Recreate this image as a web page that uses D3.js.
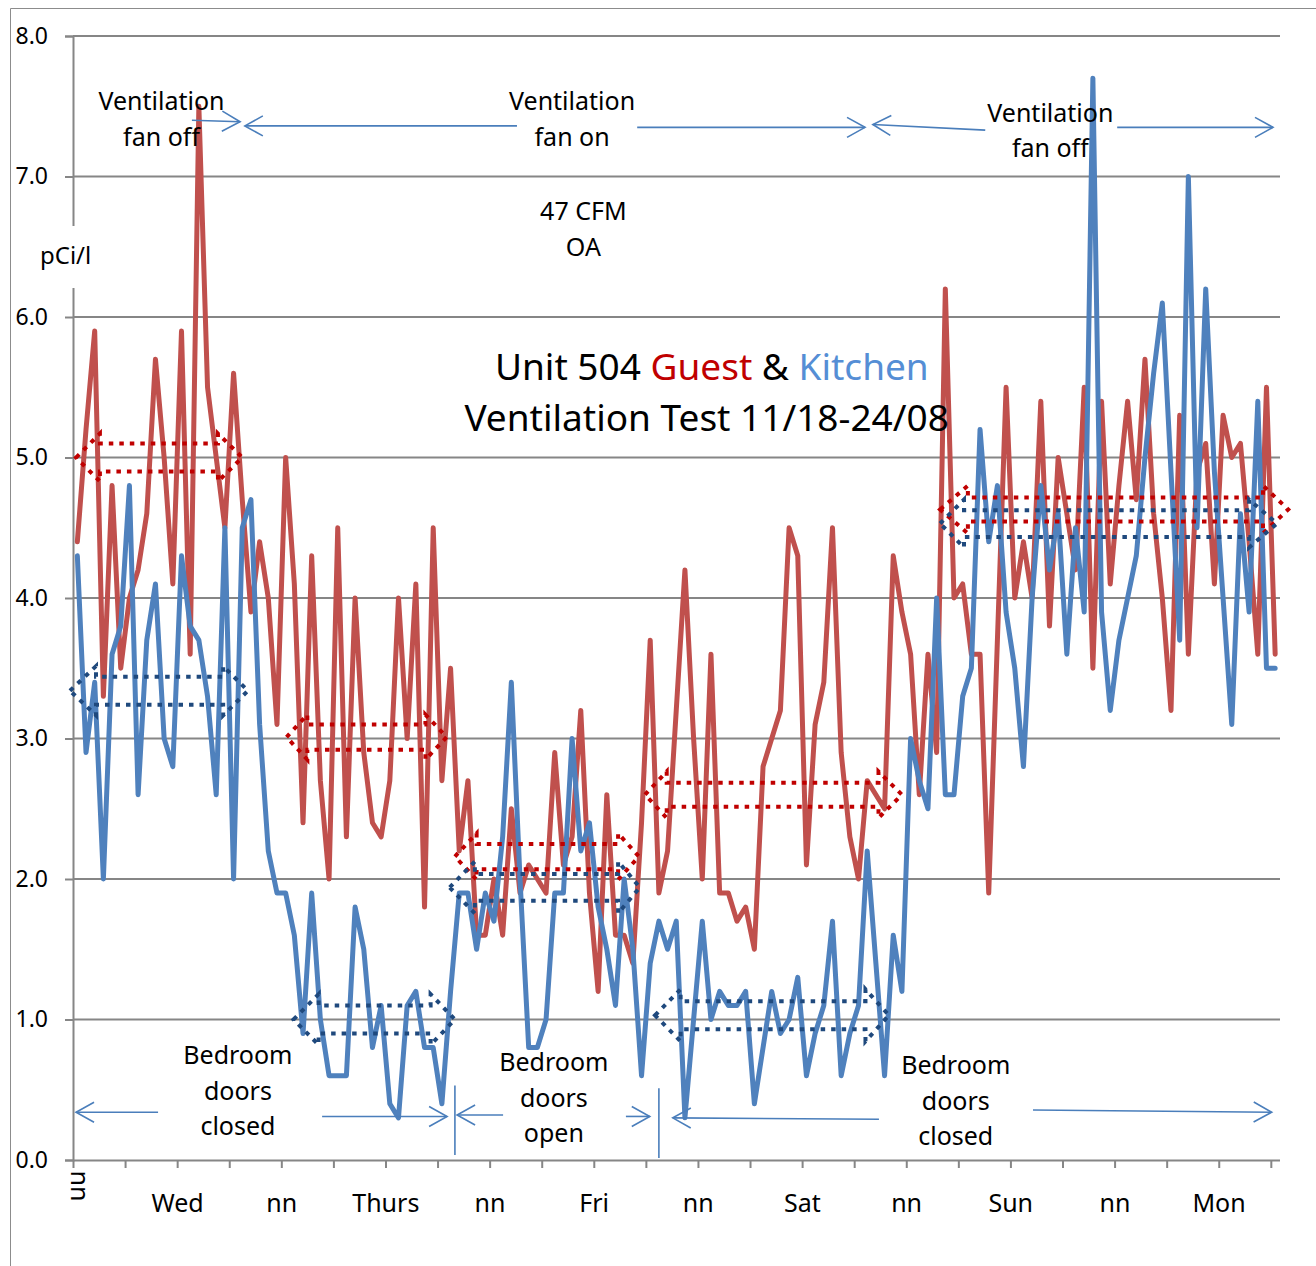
<!DOCTYPE html>
<html>
<head>
<meta charset="utf-8">
<script src="https://cdn.jsdelivr.net/npm/d3@7"></script>
<style>
  body { margin: 0; background: #fff; }
  text { font-family: "Noto Sans", sans-serif; }
</style>
</head>
<body>
<svg id="chart" width="1316" height="1266"></svg>
<script>
// hourly radon readings, pCi/l
const guest = [4.4,5.2,5.9,3.3,4.8,3.5,4.0,4.2,4.6,5.7,5.0,4.1,5.9,3.6,7.5,5.5,5.0,4.5,5.6,4.7,
  3.9,4.4,4.0,3.1,5.0,4.1,2.4,4.3,2.7,2.0,4.5,2.3,4.0,2.9,2.4,2.3,2.7,4.0,3.0,4.1,
  1.8,4.5,2.7,3.5,2.2,2.7,1.6,1.6,2.0,1.6,2.5,1.9,2.1,2.0,1.9,2.9,2.1,2.3,3.2,1.9,
  1.2,2.6,1.6,1.6,1.4,2.4,3.7,1.9,2.2,3.2,4.2,3.0,2.0,3.6,1.9,1.9,1.7,1.8,1.5,2.8,
  3.0,3.2,4.5,4.3,2.1,3.1,3.4,4.5,2.9,2.3,2.0,2.7,2.6,2.5,4.3,3.9,3.6,2.6,3.6,2.9,
  6.2,4.0,4.1,3.6,3.6,1.9,3.7,5.5,4.0,4.4,4.0,5.4,3.8,5.0,4.6,4.2,5.5,3.5,5.4,4.1,
  4.8,5.4,4.7,5.7,4.6,4.0,3.2,5.3,3.6,4.9,5.1,4.1,5.3,5.0,5.1,4.4,3.6,5.5,3.6];
const kitchen = [4.3,2.9,3.4,2.0,3.6,3.8,4.8,2.6,3.7,4.1,3.0,2.8,4.3,3.8,3.7,3.3,2.6,4.5,2.0,4.5,
  4.7,3.1,2.2,1.9,1.9,1.6,0.9,1.9,1.0,0.6,0.6,0.6,1.8,1.5,0.8,1.1,0.4,0.3,1.1,1.2,
  0.8,0.8,0.4,1.2,1.9,1.9,1.5,1.9,1.7,2.3,3.4,2.0,0.8,0.8,1.0,1.9,1.9,3.0,2.2,2.4,
  1.8,1.5,1.1,2.0,1.5,0.6,1.4,1.7,1.5,1.7,0.3,1.0,1.7,1.0,1.2,1.1,1.1,1.2,0.4,0.8,
  1.2,0.9,1.0,1.3,0.6,0.9,1.1,1.7,0.6,0.9,1.1,2.2,1.4,0.6,1.6,1.2,3.0,2.7,2.5,4.0,
  2.6,2.6,3.3,3.5,5.2,4.4,4.8,3.9,3.5,2.8,4.0,4.8,4.2,4.6,3.6,4.5,3.9,7.7,3.9,3.2,
  3.7,4.0,4.3,5.0,5.6,6.1,4.9,3.7,7.0,4.5,6.2,4.9,4.0,3.1,4.6,3.9,5.4,3.5,3.5];
const yTicks = [0,1,2,3,4,5,6,7,8];
const xTickLabels = ["nn","Wed","nn","Thurs","nn","Fri","nn","Sat","nn","Sun","nn","Mon"];

// dotted double-arrow boxes: tips, head bases (category position), centre, half heights
const guestBands = [
  {x1:0.35, h1:3.1, h2:16.7, x2:19.5, yc:5.0, sh:0.1, hh:0.17},
  {x1:24.6, h1:27.0, h2:40.6, x2:43.05, yc:3.01, sh:0.09, hh:0.16},
  {x1:44.0, h1:46.5, h2:62.8, x2:65.2, yc:2.16, sh:0.09, hh:0.165},
  {x1:65.9, h1:68.4, h2:92.8, x2:95.5, yc:2.6, sh:0.085, hh:0.165},
  {x1:99.9, h1:103.1, h2:137.1, x2:140.0, yc:4.63, sh:0.085, hh:0.17}
];
const kitchenBands = [
  {x1:-0.35, h1:2.65, h2:17.3, x2:20.15, yc:3.34, sh:0.1, hh:0.175},
  {x1:25.4, h1:28.3, h2:41.2, x2:44.0, yc:1.0, sh:0.1, hh:0.18},
  {x1:43.4, h1:46.3, h2:62.8, x2:65.3, yc:1.94, sh:0.095, hh:0.185},
  {x1:67.05, h1:70.0, h2:91.3, x2:94.0, yc:1.03, sh:0.1, hh:0.185},
  {x1:99.9, h1:102.65, h2:135.5, x2:138.7, yc:4.53, sh:0.095, hh:0.17}
];

// blue callout arrows: [x1, v1, x2, v2, head at start?, head at end?]
const calloutArrows = [
  [13.7, 7.40, 19.25, 7.39, false, true],
  [19.8, 7.36, 51.15, 7.36, true, false],
  [65.0, 7.35, 91.25, 7.35, false, true],
  [92.15, 7.37, 105.1, 7.33, true, false],
  [120.3, 7.35, 138.25, 7.35, false, true],
  [0.35, 0.34, 9.8, 0.34, true, false],
  [28.7, 0.31, 43.1, 0.31, false, true],
  [44.0, 0.53, 44.0, 0.036, false, false],
  [44.25, 0.32, 49.55, 0.32, true, false],
  [63.7, 0.31, 66.45, 0.31, false, true],
  [67.5, 0.51, 67.5, 0.014, false, false],
  [69.1, 0.30, 92.85, 0.29, true, false],
  [110.6, 0.356, 138.1, 0.34, false, true]
];

// text notes: lines, centre position, first baseline value
const notes = [
  {lines:["Ventilation","fan off"], x:10.2, v:7.47},
  {lines:["Ventilation","fan on"], x:57.5, v:7.47},
  {lines:["47 CFM","OA"], x:58.8, v:6.69},
  {lines:["Ventilation","fan off"], x:112.6, v:7.39},
  {lines:["Bedroom","doors","closed"], x:19.0, v:0.68},
  {lines:["Bedroom","doors","open"], x:55.4, v:0.63},
  {lines:["Bedroom","doors","closed"], x:101.7, v:0.61}
];

const svg = d3.select("#chart");
const x = d3.scaleLinear().domain([0, 139]).range([73, 1279.5]);
const y = d3.scaleLinear().domain([0, 8]).range([1160, 36]);
const gridColor = "#868686";

function drawFrame(){
  svg.append("path")
    .attr("d", "M10.5,1266 V8.5 H1316")
    .attr("fill", "none")
    .attr("stroke", "#8c8c8c")
    .attr("stroke-width", 1);

  // gridlines
  svg.append("g").selectAll("line")
    .data(yTicks.filter(d => d > 0))
    .enter().append("line")
    .attr("x1", 73).attr("x2", 1280)
    .attr("y1", d => y(d)).attr("y2", d => y(d))
    .attr("stroke", gridColor).attr("stroke-width", 2);

  const yAxis = svg.append("g")
    .attr("transform", "translate(73,0)")
    .call(d3.axisLeft(y).tickValues(yTicks).tickFormat(d3.format(".1f")).tickSize(8).tickPadding(17));
  yAxis.select(".domain").attr("stroke", gridColor).attr("stroke-width", 2);
  yAxis.selectAll(".tick line").attr("stroke", gridColor).attr("stroke-width", 2);
  yAxis.selectAll(".tick text").attr("font-size", 23).attr("fill", "#000")
    .attr("font-family", "Noto Sans");

  const xAxis = svg.append("g")
    .attr("transform", "translate(0,1160)")
    .call(d3.axisBottom(x).tickValues(d3.range(0, 139, 6)).tickSize(8).tickSizeOuter(0).tickFormat(""));
  xAxis.select(".domain").attr("stroke", gridColor).attr("stroke-width", 2);
  xAxis.selectAll(".tick line").attr("stroke", gridColor).attr("stroke-width", 2);

  xTickLabels.forEach((t, k) => {
    const cx = x(12 * k + 0.5);
    if (k === 0) {
      svg.append("text").text(t)
        .attr("transform", `translate(${cx - 6},1186) rotate(90)`)
        .attr("text-anchor", "middle")
        .attr("font-size", 25);
    } else {
      svg.append("text").text(t)
        .attr("x", cx - 4).attr("y", 1212)
        .attr("text-anchor", "middle")
        .attr("font-size", 25);
    }
  });

  // unit label sits in a white box over the axis
  svg.append("rect").attr("x", 34).attr("y", 226).attr("width", 66).attr("height", 62).attr("fill", "#fff");
  svg.append("text").text("pCi/l").attr("x", 40).attr("y", 264).attr("font-size", 24);
}

function drawSeries(){
  const line = d3.line().x((d, i) => x(i + 0.5)).y(d => y(d));
  svg.append("path").datum(guest)
    .attr("d", line).attr("fill", "none")
    .attr("stroke", "#C0504D").attr("stroke-width", 5)
    .attr("stroke-linejoin", "round").attr("stroke-linecap", "round");
  svg.append("path").datum(kitchen)
    .attr("d", line).attr("fill", "none")
    .attr("stroke", "#4F81BD").attr("stroke-width", 5)
    .attr("stroke-linejoin", "round").attr("stroke-linecap", "round");
}

function bandPath(b){
  const p = [
    [x(b.x1), y(b.yc)], [x(b.h1), y(b.yc + b.hh)], [x(b.h1), y(b.yc + b.sh)],
    [x(b.h2), y(b.yc + b.sh)], [x(b.h2), y(b.yc + b.hh)], [x(b.x2), y(b.yc)],
    [x(b.h2), y(b.yc - b.hh)], [x(b.h2), y(b.yc - b.sh)], [x(b.h1), y(b.yc - b.sh)],
    [x(b.h1), y(b.yc - b.hh)]
  ];
  return "M" + p.map(q => q.join(",")).join("L") + "Z";
}

function drawBands(){
  svg.append("g").selectAll("path").data(guestBands).enter().append("path")
    .attr("d", bandPath).attr("fill", "none")
    .attr("stroke", "#C00000").attr("stroke-width", 4).attr("stroke-dasharray", "4.5,6");
  svg.append("g").selectAll("path").data(kitchenBands).enter().append("path")
    .attr("d", bandPath).attr("fill", "none")
    .attr("stroke", "#1F497D").attr("stroke-width", 4).attr("stroke-dasharray", "4.5,6");
}

function chevron(tip, from){
  const dx = tip[0] - from[0], dy = tip[1] - from[1];
  const len = Math.hypot(dx, dy);
  const ux = dx / len, uy = dy / len;
  const a = [tip[0] - 18 * ux - 10 * uy, tip[1] - 18 * uy + 10 * ux];
  const b = [tip[0] - 18 * ux + 10 * uy, tip[1] - 18 * uy - 10 * ux];
  return `M${a}L${tip}L${b}`;
}

function drawCallouts(){
  const g = svg.append("g").attr("fill", "none").attr("stroke", "#4A7EBB").attr("stroke-width", 1.6);
  calloutArrows.forEach(a => {
    const p1 = [x(a[0]), y(a[1])], p2 = [x(a[2]), y(a[3])];
    g.append("path").attr("d", `M${p1}L${p2}`);
    if (a[4]) g.append("path").attr("d", chevron(p1, p2));
    if (a[5]) g.append("path").attr("d", chevron(p2, p1));
  });

  notes.forEach(n => {
    const t = svg.append("text").attr("text-anchor", "middle").attr("font-size", 25);
    n.lines.forEach((s, i) => {
      t.append("tspan").text(s).attr("x", x(n.x)).attr("y", y(n.v) + i * 35.5);
    });
  });

  const title = svg.append("text").attr("text-anchor", "middle").attr("font-size", 37);
  const l1 = title.append("tspan").attr("x", x(73.6)).attr("y", y(5.55));
  l1.append("tspan").text("Unit 504 ");
  l1.append("tspan").text("Guest").attr("fill", "#C00000");
  l1.append("tspan").text(" & ");
  l1.append("tspan").text("Kitchen").attr("fill", "#558ED5");
  title.append("tspan").text("Ventilation Test 11/18-24/08").attr("x", x(73.0)).attr("y", y(5.19));
}

drawFrame();
drawSeries();
drawBands();
drawCallouts();
</script>
</body>
</html>
